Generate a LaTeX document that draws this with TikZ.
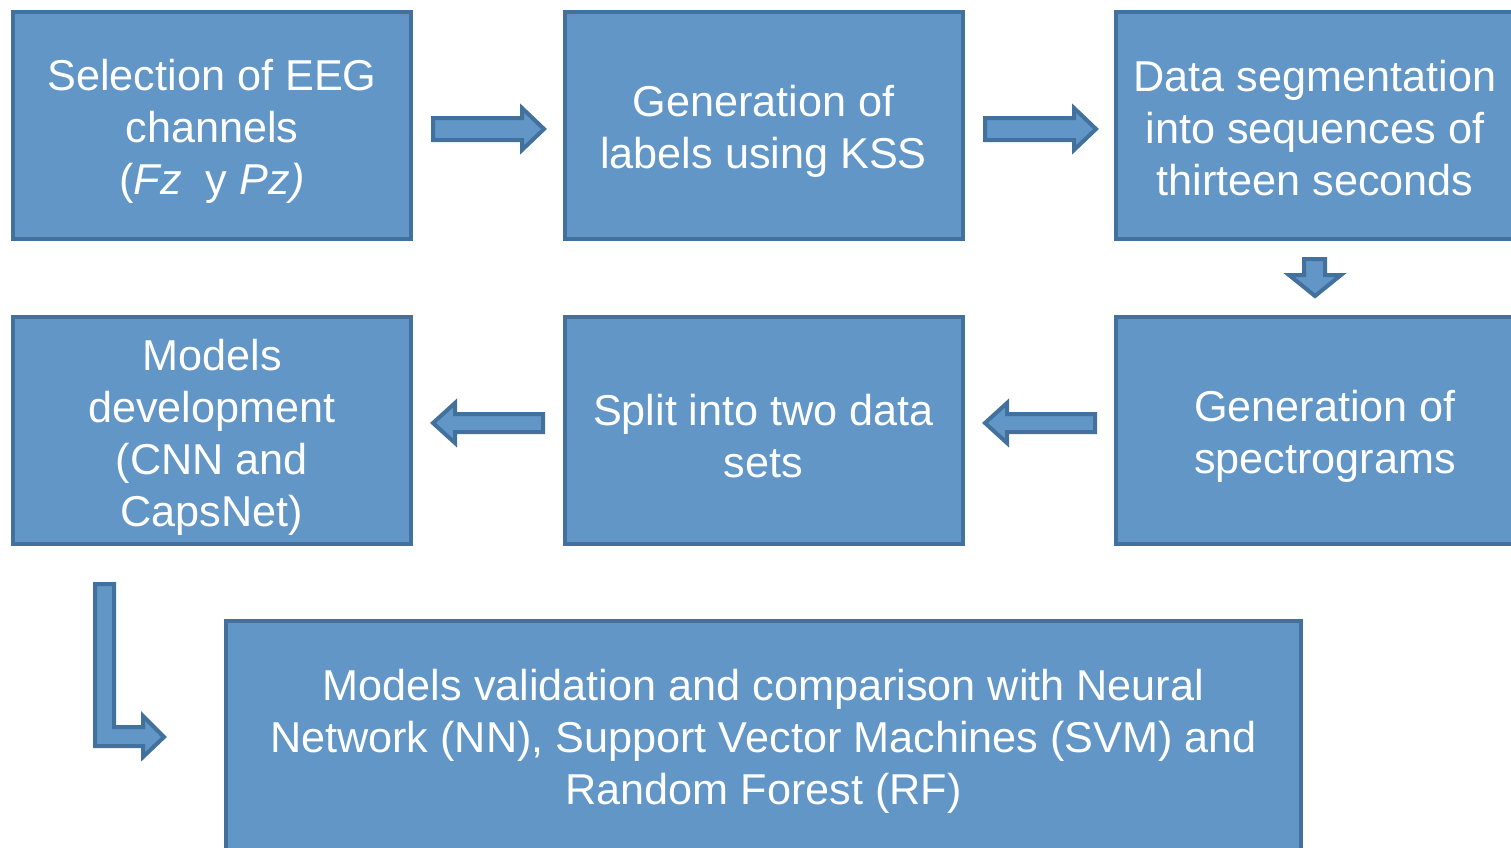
\documentclass[tikz,border=0pt]{standalone}
\usepackage{fontspec}
\setmainfont{Liberation Sans}
\definecolor{boxfill}{RGB}{97,150,199}
\definecolor{boxline}{RGB}{65,113,156}
\begin{document}
\begin{tikzpicture}[x=0.5pt,y=-0.5pt,
  stepbox/.style={draw=boxline, fill=boxfill, line width=2pt, minimum width=199pt, minimum height=113.5pt, inner sep=0pt},
  boxtext/.style={text=white, align=center, inner sep=0pt, font=\fontsize{21.6pt}{26pt}\selectfont},
  blockarrow/.style={draw=boxline, fill=boxfill, line width=2pt, line join=miter}]
\useasboundingbox (0,0) rectangle (1511,847);
\clip (0,0) rectangle (1511,847);
\node[stepbox] (b1) at (212,125.5) {};
\node[stepbox] (b2) at (763.5,125.5) {};
\node[stepbox] (b3) at (1315,125.5) {};
\node[stepbox] (b4) at (212,430.5) {};
\node[stepbox] (b5) at (763.5,430.5) {};
\node[stepbox] (b6) at (1315,430.5) {};
\node[stepbox, minimum width=537.5pt, minimum height=118pt] (b7) at (763.5,739) {};
\node[boxtext, yshift=-3pt] (t1) at (b1.center) {Selection of EEG\\channels\\(\textit{Fz}\ \ y \textit{Pz)}};
\node[boxtext, yshift=-3pt] (t2) at (b2.center) {Generation of\\labels using KSS};
\node[boxtext, yshift=-1.5pt] (t3) at (b3.center) {Data segmentation\\into sequences of\\thirteen seconds};
\node[boxtext, yshift=-3.3pt] (t4) at (b4.center) {Models\\development\\(CNN and\\CapsNet)};
\node[boxtext, yshift=-3pt] (t5) at (b5.center) {Split into two data\\sets};
\node[boxtext, yshift=-3pt, xshift=5pt] (t6) at (b6.center) {Generation of\\spectrograms};
\node[boxtext, yshift=-1pt] (t7) at (b7.center) {Models validation and comparison with Neural\\Network (NN), Support Vector Machines (SVM) and\\Random Forest (RF)};
% right arrows
\foreach \xa/\xb/\yc in {433/544/129, 985/1096/129}{
  \draw[blockarrow] (\xa,\yc-11) -- (\xb-22,\yc-11) -- (\xb-22,\yc-21) -- (\xb,\yc) -- (\xb-22,\yc+21) -- (\xb-22,\yc+11) -- (\xa,\yc+11) -- cycle;
}
% left arrows
\foreach \xa/\xb/\yc in {543/433/423, 1095/985/423}{
  \draw[blockarrow] (\xa,\yc-9) -- (\xb+22,\yc-9) -- (\xb+22,\yc-20) -- (\xb,\yc) -- (\xb+22,\yc+20) -- (\xb+22,\yc+9) -- (\xa,\yc+9) -- cycle;
}
% down arrow
\draw[blockarrow] (1304,259) -- (1325,259) -- (1325,275) -- (1341,275) -- (1315,296) -- (1289,275) -- (1304,275) -- cycle;
% L arrow
\draw[blockarrow] (95,584) -- (114,584) -- (114,727) -- (143,727) -- (143,716) -- (164,737) -- (143,757) -- (143,746) -- (95,746) -- cycle;
\end{tikzpicture}
\end{document}
